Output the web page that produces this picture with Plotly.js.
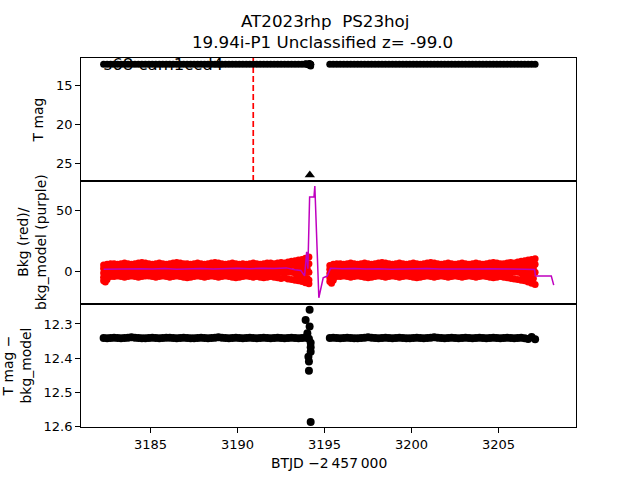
<!DOCTYPE html>
<html>
<head>
<meta charset="utf-8">
<script src="https://cdn.plot.ly/plotly-3.0.1.min.js"></script>
<style>html,body{margin:0;padding:0;background:#fff;}#chart{width:640px;height:480px;}</style>
</head>
<body>
<div id="chart"></div>
<script>
// ---------------- data ----------------
const titleLine1 = 'AT2023rhp  PS23hoj';
const titleLine2 = '19.94i-P1 Unclassified z= -99.0';
const sectorLabel = 's68 cam1ccd4';
const discoveryT = 3190.9;          // red dashed marker
const limitT = [3194.15];           // upper-limit triangle
const limitMag = [26.5];

// orbit 1 and orbit 2 sample times (BTJD - 2457000)
const t1 = [3182.3,3182.5,3182.7,3182.9,3183.1,3183.3,3183.5,3183.7,3183.9,3184.1,
  3184.3,3184.5,3184.7,3184.9,3185.1,3185.3,3185.5,3185.7,3185.9,3186.1,
  3186.3,3186.5,3186.7,3186.9,3187.1,3187.3,3187.5,3187.7,3187.9,3188.1,
  3188.3,3188.5,3188.7,3188.9,3189.1,3189.3,3189.5,3189.7,3189.9,3190.1,
  3190.3,3190.5,3190.7,3190.9,3191.1,3191.3,3191.5,3191.7,3191.9,3192.1,
  3192.3,3192.5,3192.7,3192.9,3193.1,3193.3,3193.5,3193.7,3193.9,3194.1];
const t2 = [3195.3,3195.5,3195.7,3195.9,3196.1,3196.3,3196.5,3196.7,3196.9,3197.1,
  3197.3,3197.5,3197.7,3197.9,3198.1,3198.3,3198.5,3198.7,3198.9,3199.1,
  3199.3,3199.5,3199.7,3199.9,3200.1,3200.3,3200.5,3200.7,3200.9,3201.1,
  3201.3,3201.5,3201.7,3201.9,3202.1,3202.3,3202.5,3202.7,3202.9,3203.1,
  3203.3,3203.5,3203.7,3203.9,3204.1,3204.3,3204.5,3204.7,3204.9,3205.1,
  3205.3,3205.5,3205.7,3205.9,3206.1,3206.3,3206.5,3206.7,3206.9,3207.1];

// T mag (also T mag - bkg_model, same level)
const mag1 = [12.341,12.342,12.341,12.340,12.341,12.342,12.341,12.340,12.339,12.340,
  12.341,12.342,12.342,12.341,12.340,12.341,12.342,12.341,12.340,12.340,
  12.341,12.342,12.341,12.340,12.341,12.342,12.342,12.341,12.340,12.341,
  12.342,12.341,12.340,12.339,12.340,12.341,12.342,12.341,12.340,12.341,
  12.342,12.341,12.340,12.341,12.342,12.341,12.340,12.341,12.342,12.341,
  12.340,12.341,12.342,12.341,12.340,12.341,12.342,12.341,12.340,12.343];
const mag2 = [12.341,12.340,12.341,12.342,12.341,12.340,12.341,12.342,12.342,12.341,
  12.340,12.339,12.340,12.341,12.342,12.341,12.340,12.341,12.342,12.341,
  12.340,12.341,12.342,12.342,12.341,12.340,12.341,12.342,12.341,12.340,
  12.339,12.340,12.341,12.342,12.341,12.340,12.341,12.342,12.341,12.340,
  12.341,12.342,12.341,12.340,12.341,12.342,12.341,12.340,12.341,12.342,
  12.341,12.340,12.341,12.342,12.341,12.340,12.342,12.344,12.338,12.345];
// scattered points around the orbit gap
const tOut = [3194.14,3193.91,3194.14,3194.01,3194.2,3194.2,3194.2,3194.07,3194.1,3194.1,3194.2];
const magOut = [12.258,12.288,12.307,12.327,12.355,12.368,12.381,12.396,12.41,12.437,12.587];

// background flux (red): four layers of the noisy band, orbit 1
const bkgA1 = [5,5.5,6,6,5.5,6,6.5,6,5.5,6,6.5,7,6.5,6,5.5,6,6.5,6,5.5,6,
  6.5,7,6.5,6,6,5.5,6,6.5,6,5.5,6,6.5,7,6.5,6,5.5,6,6.5,6,5.5,
  6,5.5,6,6.5,6,5.5,6,6.5,6.5,6,6.5,7,6.5,7.5,8,8.5,9,9.5,10.5,11.5];
const bkgB1 = [2,2.5,2.5,2.5,2,2.5,3,2.5,2,2.5,3,3,2.5,2,2,2.5,3,2.5,2,2.5,
  3,3,2.5,2,2.5,2,2.5,3,2.5,2,2.5,3,3,2.5,2,2,2.5,3,2.5,2,
  2.5,2,2.5,3,2.5,2,2.5,3,3,2.5,3,3.5,3,4,4.5,5,5.5,5,6,6];
const bkgC1 = [-1.5,-1,-1,-1,-1.5,-1,-0.5,-1,-1.5,-1,-0.5,-1,-1,-1.5,-1.5,-1,-0.5,-1,-1.5,-1,
  -0.5,-0.5,-1,-1.5,-1,-1.5,-1,-0.5,-1,-1.5,-1,-0.5,-0.5,-1,-1.5,-1.5,-1,-0.5,-1,-1.5,
  -1,-1.5,-1,-0.5,-1,-1.5,-1,-0.5,-1,-1.5,-1,-1,-1.5,-1,-1,-1.5,-1,-1.5,-1,-1];
const bkgD1 = [-5,-5,-4.5,-4.5,-4,-4.5,-5,-4.5,-4,-4.5,-5,-4.5,-4,-4,-4.5,-5,-4.5,-4,-4.5,-5,
  -4.5,-4,-4.5,-5,-5.5,-5,-4.5,-4,-4.5,-5,-4.5,-4,-4.5,-5,-4.5,-4,-4.5,-5,-5.5,-5,
  -4.5,-4,-4.5,-5,-4.5,-5,-5.5,-5,-4.5,-5,-5.5,-6,-5.5,-6.5,-7,-7.5,-8,-8.5,-9.5,-10.5];
// orbit 2
const bkgA2 = [4.5,5.5,6,6,5.5,6,6.5,6,5.5,6,6.5,6,5.5,6,6.5,7,6.5,6,5.5,6,
  6.5,6,5.5,6,6.5,6,5.5,6,6.5,7,6.5,6,5.5,6,6.5,6,5.5,6,6.5,6,
  5.5,6,6.5,6,5.5,6,6.5,7,6.5,6,6,6.5,7,6.5,7.5,8,8.5,9,9.5,10];
const bkgB2 = [1.5,2,2.5,2.5,2,2.5,3,2.5,2,2.5,3,2.5,2,2.5,3,3,2.5,2,2,2.5,
  3,2.5,2,2.5,3,2.5,2,2.5,3,3,2.5,2.5,2,2.5,3,2.5,2,2.5,3,2.5,
  2,2.5,3,2.5,2,2.5,3,3,2.5,2,2.5,3,3.5,3,4,4.5,5,5,5.5,5.5];
const bkgC2 = [-2,-1.5,-1,-1,-1.5,-1,-0.5,-1,-1.5,-1,-0.5,-1,-1.5,-1,-0.5,-0.5,-1,-1.5,-1.5,-1,
  -0.5,-1,-1.5,-1,-0.5,-1,-1.5,-1,-0.5,-0.5,-1,-1,-1.5,-1,-0.5,-1,-1.5,-1,-0.5,-1,
  -1.5,-1,-0.5,-1,-1.5,-1,-0.5,-0.5,-1,-1.5,-1,-1,-1.5,-1,-1,-1.5,-1,-1.5,-1,-1];
const bkgD2 = [-5.5,-5,-4.5,-4.5,-4,-4.5,-5,-4.5,-4,-4.5,-5,-5.5,-5,-4.5,-4,-4.5,-5,-4.5,-4,-4.5,
  -5,-4.5,-4,-4.5,-5,-5.5,-5,-4.5,-4,-4.5,-5,-4.5,-4,-4.5,-5,-4.5,-4,-4.5,-5,-4.5,
  -4,-4.5,-5,-4.5,-4,-4.5,-5,-5.5,-5,-4.5,-5,-5.5,-6,-6.5,-7,-7.5,-8,-9,-10,-11];
// extra scattered background points where the band widens (orbit starts / ends)
const bkgExtraT = [3182.3,3182.4,3182.5, 3195.3,3195.4,3195.5,
  3193.4,3193.6,3193.8,3194.0,3193.4,3193.6,3193.8,3194.0,3194.1,
  3206.4,3206.6,3206.8,3207.0,3206.4,3206.6,3206.8,3207.0];
const bkgExtra = [-8,-9,-7, -8.5,-10,-7.5,
  2.5,2,2.5,2,-4.5,-5,-5.5,-6,-7.4,
  2,2.5,2,2.5,-4.5,-5,-5.5,-6];

// background model (purple)
const modelT = [3182.3,3183.0,3183.7,3184.4,3185.1,3185.8,3186.5,3187.2,3187.9,3188.6,
  3189.3,3190.0,3190.7,3191.4,3192.1,3192.8,3193.3,3193.63,3193.85,3193.97,
  3194.04,3194.14,3194.39,3194.44,3194.67,3194.92,3195.15,3195.34,3196.0,3196.7,
  3197.4,3198.1,3198.8,3199.5,3200.2,3200.9,3201.6,3202.3,3203.0,3203.7,
  3204.4,3205.1,3205.8,3206.5,3207.07,3207.12,3208.03,3208.17];
const modelBkg = [1.5,1.8,1.5,1.9,1.6,2.0,1.4,1.7,2.1,1.6,
  1.9,2.2,1.8,2.4,2.0,2.6,1.0,0.5,-4.0,15.8,
  2.0,60.7,60.7,69.7,-21.9,-5.5,-4.1,2.2,1.8,2.1,
  1.6,1.9,1.5,1.8,1.6,2.0,1.7,1.5,1.8,1.6,
  1.9,1.5,1.7,1.4,1.2,-4.1,-4.1,-11.5];

// ---------------- figure ----------------
const FONT = 'DejaVu Sans, Liberation Sans, sans-serif';
const tAll = t1.concat(t2, tOut);
const magAll = mag1.concat(mag2, magOut);
const bkgT = t1.concat(t1, t1, t1, t2, t2, t2, t2, bkgExtraT);
const bkgAll = bkgA1.concat(bkgB1, bkgC1, bkgD1, bkgA2, bkgB2, bkgC2, bkgD2, bkgExtra);

const traces = [
  {x:[t1[0]], y:[12.5], xaxis:'x', yaxis:'y', mode:'text', type:'scatter', cliponaxis:false,
   text:[sectorLabel], textposition:'middle right',
   textfont:{family:FONT, size:16.5, color:'black'}, hoverinfo:'skip'},
  {x:tAll, y:magAll, xaxis:'x', yaxis:'y', mode:'markers', type:'scatter',
   marker:{color:'black', size:7}},
  {x:limitT, y:limitMag, xaxis:'x', yaxis:'y', mode:'markers', type:'scatter',
   marker:{color:'black', size:9, symbol:'triangle-up'}},
  {x:bkgT, y:bkgAll, xaxis:'x2', yaxis:'y2', mode:'markers', type:'scatter',
   marker:{color:'#ff0000', size:7}},
  {x:modelT, y:modelBkg, xaxis:'x2', yaxis:'y2', mode:'lines', type:'scatter',
   line:{color:'#bf00bf', width:1.5}},
  {x:tAll, y:magAll, xaxis:'x3', yaxis:'y3', mode:'markers', type:'scatter',
   marker:{color:'black', size:8}}
];

const axBase = {showline:true, linecolor:'black', linewidth:1, mirror:true,
  showgrid:false, zeroline:false, ticks:'outside', ticklen:4.9, tickwidth:1,
  tickcolor:'black', tickfont:{family:FONT, size:13, color:'black'}};
const xr = [3181.0, 3209.45];
const annFont = {family:FONT, size:13.9, color:'black'};
const titleFont = {family:FONT, size:16.7, color:'black'};

const layout = {
  width:640, height:480,
  paper_bgcolor:'white', plot_bgcolor:'white',
  margin:{l:81, r:64, t:58, b:53},
  showlegend:false,
  font:{family:FONT, color:'black'},
  xaxis:Object.assign({}, axBase, {range:xr, anchor:'y', matches:'x3', ticks:'', showticklabels:false}),
  xaxis2:Object.assign({}, axBase, {range:xr, anchor:'y2', matches:'x3', ticks:'', showticklabels:false}),
  xaxis3:Object.assign({}, axBase, {range:xr, anchor:'y3', tickvals:[3185,3190,3195,3200,3205]}),
  yaxis:Object.assign({}, axBase, {domain:[2/3,1], anchor:'x', range:[27.26,11.55], tickvals:[15,20,25]}),
  yaxis2:Object.assign({}, axBase, {domain:[1/3,2/3], anchor:'x2', range:[-27,73.8], tickvals:[0,50]}),
  yaxis3:Object.assign({}, axBase, {domain:[0,1/3], anchor:'x3', range:[12.6015,12.2415],
    tickvals:[12.3,12.4,12.5,12.6], tickformat:'.1f'}),
  shapes:[{type:'line', xref:'x', yref:'y domain', x0:discoveryT, x1:discoveryT, y0:0, y1:1,
    layer:'below', line:{color:'#ff0000', width:1.7, dash:'6px,3px'}}],
  annotations:[
    {text:titleLine1, xref:'paper', yref:'paper', x:0.493, y:1.101,
     xanchor:'center', yanchor:'middle', showarrow:false, font:titleFont},
    {text:titleLine2, xref:'paper', yref:'paper', x:0.488, y:1.043,
     xanchor:'center', yanchor:'middle', showarrow:false, font:titleFont},
    {text:'T mag', xref:'paper', yref:'paper', x:-0.0869, y:0.8333, textangle:-90,
     xanchor:'center', yanchor:'middle', showarrow:false, font:annFont},
    {text:'Bkg (red)/<br>bkg_model (purple)', xref:'paper', yref:'paper', x:-0.1, y:0.5, textangle:-90,
     xanchor:'center', yanchor:'middle', align:'center', showarrow:false, font:annFont},
    {text:'T mag \u2212<br>bkg_model', xref:'paper', yref:'paper', x:-0.1293, y:0.1667, textangle:-90,
     xanchor:'center', yanchor:'middle', align:'center', showarrow:false, font:annFont},
    {text:'BTJD \u22122\u2009457\u2009000', xref:'paper', yref:'paper', x:0.5, y:-0.0976,
     xanchor:'center', yanchor:'middle', showarrow:false, font:annFont}
  ]
};

Plotly.newPlot('chart', traces, layout, {displayModeBar:false, staticPlot:true});
</script>
</body>
</html>
